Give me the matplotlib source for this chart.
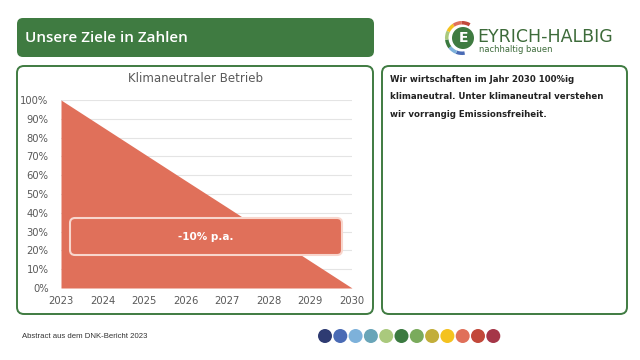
import matplotlib.pyplot as plt
from matplotlib.patches import FancyBboxPatch, Circle, Wedge
from matplotlib.transforms import Affine2D

# data
years = [2023, 2024, 2025, 2026, 2027, 2028, 2029, 2030]
share = [1.00, 0.857, 0.714, 0.571, 0.429, 0.286, 0.143, 0.0]
y_ticks = [0, 0.1, 0.2, 0.3, 0.4, 0.5, 0.6, 0.7, 0.8, 0.9, 1.0]
y_labels = ['0%', '10%', '20%', '30%', '40%', '50%', '60%', '70%', '80%', '90%', '100%']
dot_colors = ['#2e3b72', '#4a6bb5', '#7db1da', '#69a5b8', '#aac97d', '#3b7a40',
              '#7aab5c', '#c2ae3a', '#f4c21f', '#e0705a', '#c2483a', '#a53648']
ring_colors = ['#4a6bb5', '#7db1da', '#3b7a40', '#aac97d', '#f4c21f', '#e0705a', '#c2483a']

green = '#3f7b41'
salmon = '#e0705a'
W, H = 640, 360

fig = plt.figure(figsize=(6.4, 3.6), dpi=100)
fig.patch.set_facecolor('white')
# pixel coords, origin top-left
px = Affine2D().scale(1 / W, -1 / H).translate(0, 1) + fig.transFigure


def box(x, y, w, h, r, fc, ec, lw=0, z=1):
    p = FancyBboxPatch((x, y), w, h, boxstyle=f'round,pad=0,rounding_size={r}',
                       fc=fc, ec=ec, lw=lw, transform=px, zorder=z)
    fig.add_artist(p)


def txt(x, y, s, **kw):
    fig.text(x / W, 1 - y / H, s, **kw)


# header
box(17, 18, 357, 39, 6, green, green)
txt(25, 38, 'Unsere Ziele in Zahlen', color='white', fontsize=11, va='center',
    family='Open Sans', weight='semibold')

# panels
box(17, 66, 356, 248, 7, 'white', green, lw=1.4, z=0)
box(382, 66, 245, 248, 7, 'white', green, lw=1.4, z=0)

# chart
ax = fig.add_axes([61 / W, 1 - 288 / H, 291 / W, 188 / H])
ax.fill_between(years, share, color=salmon, lw=0, zorder=2)
ax.set_xlim(2023, 2030)
ax.set_ylim(0, 1)
ax.set_xticks(years)
ax.set_yticks(y_ticks, y_labels)
ax.grid(axis='y', color='#e4e4e4', lw=0.8)
ax.set_axisbelow(True)
for s in ax.spines.values():
    s.set_visible(False)
ax.tick_params(length=0, labelsize=7.2, labelcolor='#595959')
ax.tick_params(axis='y', pad=9)
ax.tick_params(axis='x', pad=6)
ax.set_facecolor('none')
txt(195, 78, 'Klimaneutraler Betrieb', color='#595959', fontsize=8.5, ha='center', va='center')

# label box
box(70, 218, 272, 37, 5, salmon, '#f8d6cd', lw=1.5, z=3)
txt(206, 237, '-10% p.a.', color='white', fontsize=7.5, weight='bold', ha='center',
    va='center', zorder=4)

# right panel text
txt(390, 75, 'Wir wirtschaften im Jahr 2030 100%ig\nklimaneutral. Unter klimaneutral verstehen\n'
    'wir vorrangig Emissionsfreiheit.', color='#222222', fontsize=6.2, weight='bold',
    va='top', linespacing=2.2)

# logo
step = 220 / len(ring_colors)
for i, c in enumerate(ring_colors):
    w = Wedge((462, 38), 17, 80 + i * step, 80 + (i + 1) * step, width=3.5,
              fc=c, ec='none', transform=px)
    fig.add_artist(w)
fig.add_artist(Circle((463, 38), 11, fc=green, ec='none', transform=px))
txt(463, 38.5, 'E', color='white', fontsize=10, weight='bold', ha='center', va='center')
txt(477, 37, 'EYRICH-HALBIG', color='#3d6b3a', fontsize=12.5, va='center')
txt(479, 50, 'nachhaltig bauen', color='#3d6b3a', fontsize=6, va='center')

# footer
txt(22, 337, 'Abstract aus dem DNK-Bericht 2023', color='#333333', fontsize=5.6,
    family='Liberation Sans', va='center')
for i, c in enumerate(dot_colors):
    fig.add_artist(Circle((325 + i * 15.3, 336), 7, fc=c, ec='none', transform=px))

fig.savefig('out.png', dpi=100)
